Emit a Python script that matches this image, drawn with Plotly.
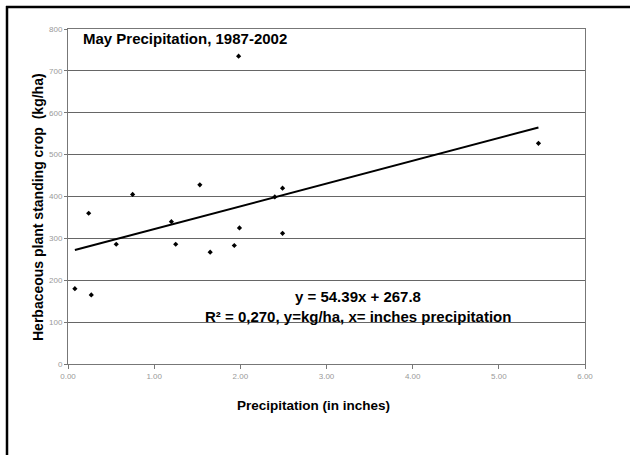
import plotly.graph_objects as go

# Data
precip_in = [0.08, 0.27, 0.24, 0.56, 0.75, 1.20, 1.25, 1.53, 1.65, 1.93, 1.99, 1.98, 2.40, 2.49, 2.49, 5.46]
crop_kgha = [180, 165, 360, 286, 405, 340, 286, 428, 267, 283, 325, 735, 399, 420, 312, 527]
trend_slope = 54.39
trend_intercept = 267.8
x_ticks = [0, 1, 2, 3, 4, 5, 6]
x_tick_labels = ["0.00", "1.00", "2.00", "3.00", "4.00", "5.00", "6.00"]
y_ticks = [0, 100, 200, 300, 400, 500, 600, 700, 800]

x_lo, x_hi = min(precip_in), max(precip_in)
trend_x = [x_lo, x_hi]
trend_y = [trend_slope * v + trend_intercept for v in trend_x]

fig = go.Figure()
fig.add_trace(go.Scatter(x=trend_x, y=trend_y, mode="lines",
                         line=dict(color="black", width=2), showlegend=False, hoverinfo="skip"))
fig.add_trace(go.Scatter(x=precip_in, y=crop_kgha, mode="markers",
                         marker=dict(color="black", size=4, symbol="diamond"), showlegend=False))

font = "Liberation Sans, Arial, sans-serif"
# plot area on screen: x 68..585, y 29..364
W, H = 517, 335
frame_line = dict(color="black", width=2.5)
fig.update_layout(
    width=630, height=455,
    margin=dict(l=68, r=45, t=29, b=91),
    paper_bgcolor="white", plot_bgcolor="white",
    font=dict(family=font, color="black"),
    xaxis=dict(range=[0, 6], tickvals=x_ticks, ticktext=x_tick_labels,
               showgrid=False, zeroline=False, showline=True, linecolor="#777", linewidth=1,
               mirror=True, ticks="outside", ticklen=4, tickcolor="#777",
               tickfont=dict(size=8, color="#999", family=font)),
    yaxis=dict(range=[0, 800], tickvals=y_ticks,
               showgrid=True, gridcolor="#666", gridwidth=1, zeroline=False,
               showline=True, linecolor="#777", linewidth=1, mirror=True,
               ticks="outside", ticklen=3, tickcolor="#777",
               tickfont=dict(size=8, color="#999", family=font)),
    shapes=[
        dict(type="line", xref="paper", yref="paper",
             x0=(6 - 68) / W, x1=(640 - 68) / W, y0=(364 - 7) / H, y1=(364 - 7) / H,
             line=frame_line, layer="above"),
        dict(type="line", xref="paper", yref="paper",
             x0=(7 - 68) / W, x1=(7 - 68) / W, y0=(364 - 6) / H, y1=(364 - 470) / H,
             line=frame_line, layer="above"),
    ],
    annotations=[
        dict(text="<b>May Precipitation, 1987-2002</b>", xref="paper", yref="paper",
             x=(81 - 68) / W, y=(364 - 38) / H, xanchor="left", yanchor="middle",
             showarrow=False, font=dict(size=15, family=font)),
        dict(text="<b>Herbaceous plant standing crop  (kg/ha)</b>", xref="paper", yref="paper",
             x=(38 - 68) / W, y=(364 - 207) / H, xanchor="center", yanchor="middle",
             textangle=-90, showarrow=False, font=dict(size=14, family=font)),
        dict(text="<b>Precipitation (in inches)</b>", xref="paper", yref="paper",
             x=(313 - 68) / W, y=(364 - 405) / H, xanchor="center", yanchor="middle",
             showarrow=False, font=dict(size=13.5, family=font)),
        dict(text="<b>y = 54.39x + 267.8</b>", xref="paper", yref="paper",
             x=(358 - 68) / W, y=(364 - 296) / H, xanchor="center", yanchor="middle",
             showarrow=False, font=dict(size=15, family=font)),
        dict(text="<b>R² = 0,270, y=kg/ha, x= inches precipitation</b>", xref="paper", yref="paper",
             x=(358 - 68) / W, y=(364 - 316) / H, xanchor="center", yanchor="middle",
             showarrow=False, font=dict(size=15, family=font)),
    ],
)

fig.write_html("out.html", config={"displayModeBar": False},
               post_script="document.body.style.margin='0';document.body.style.overflow='hidden';")
